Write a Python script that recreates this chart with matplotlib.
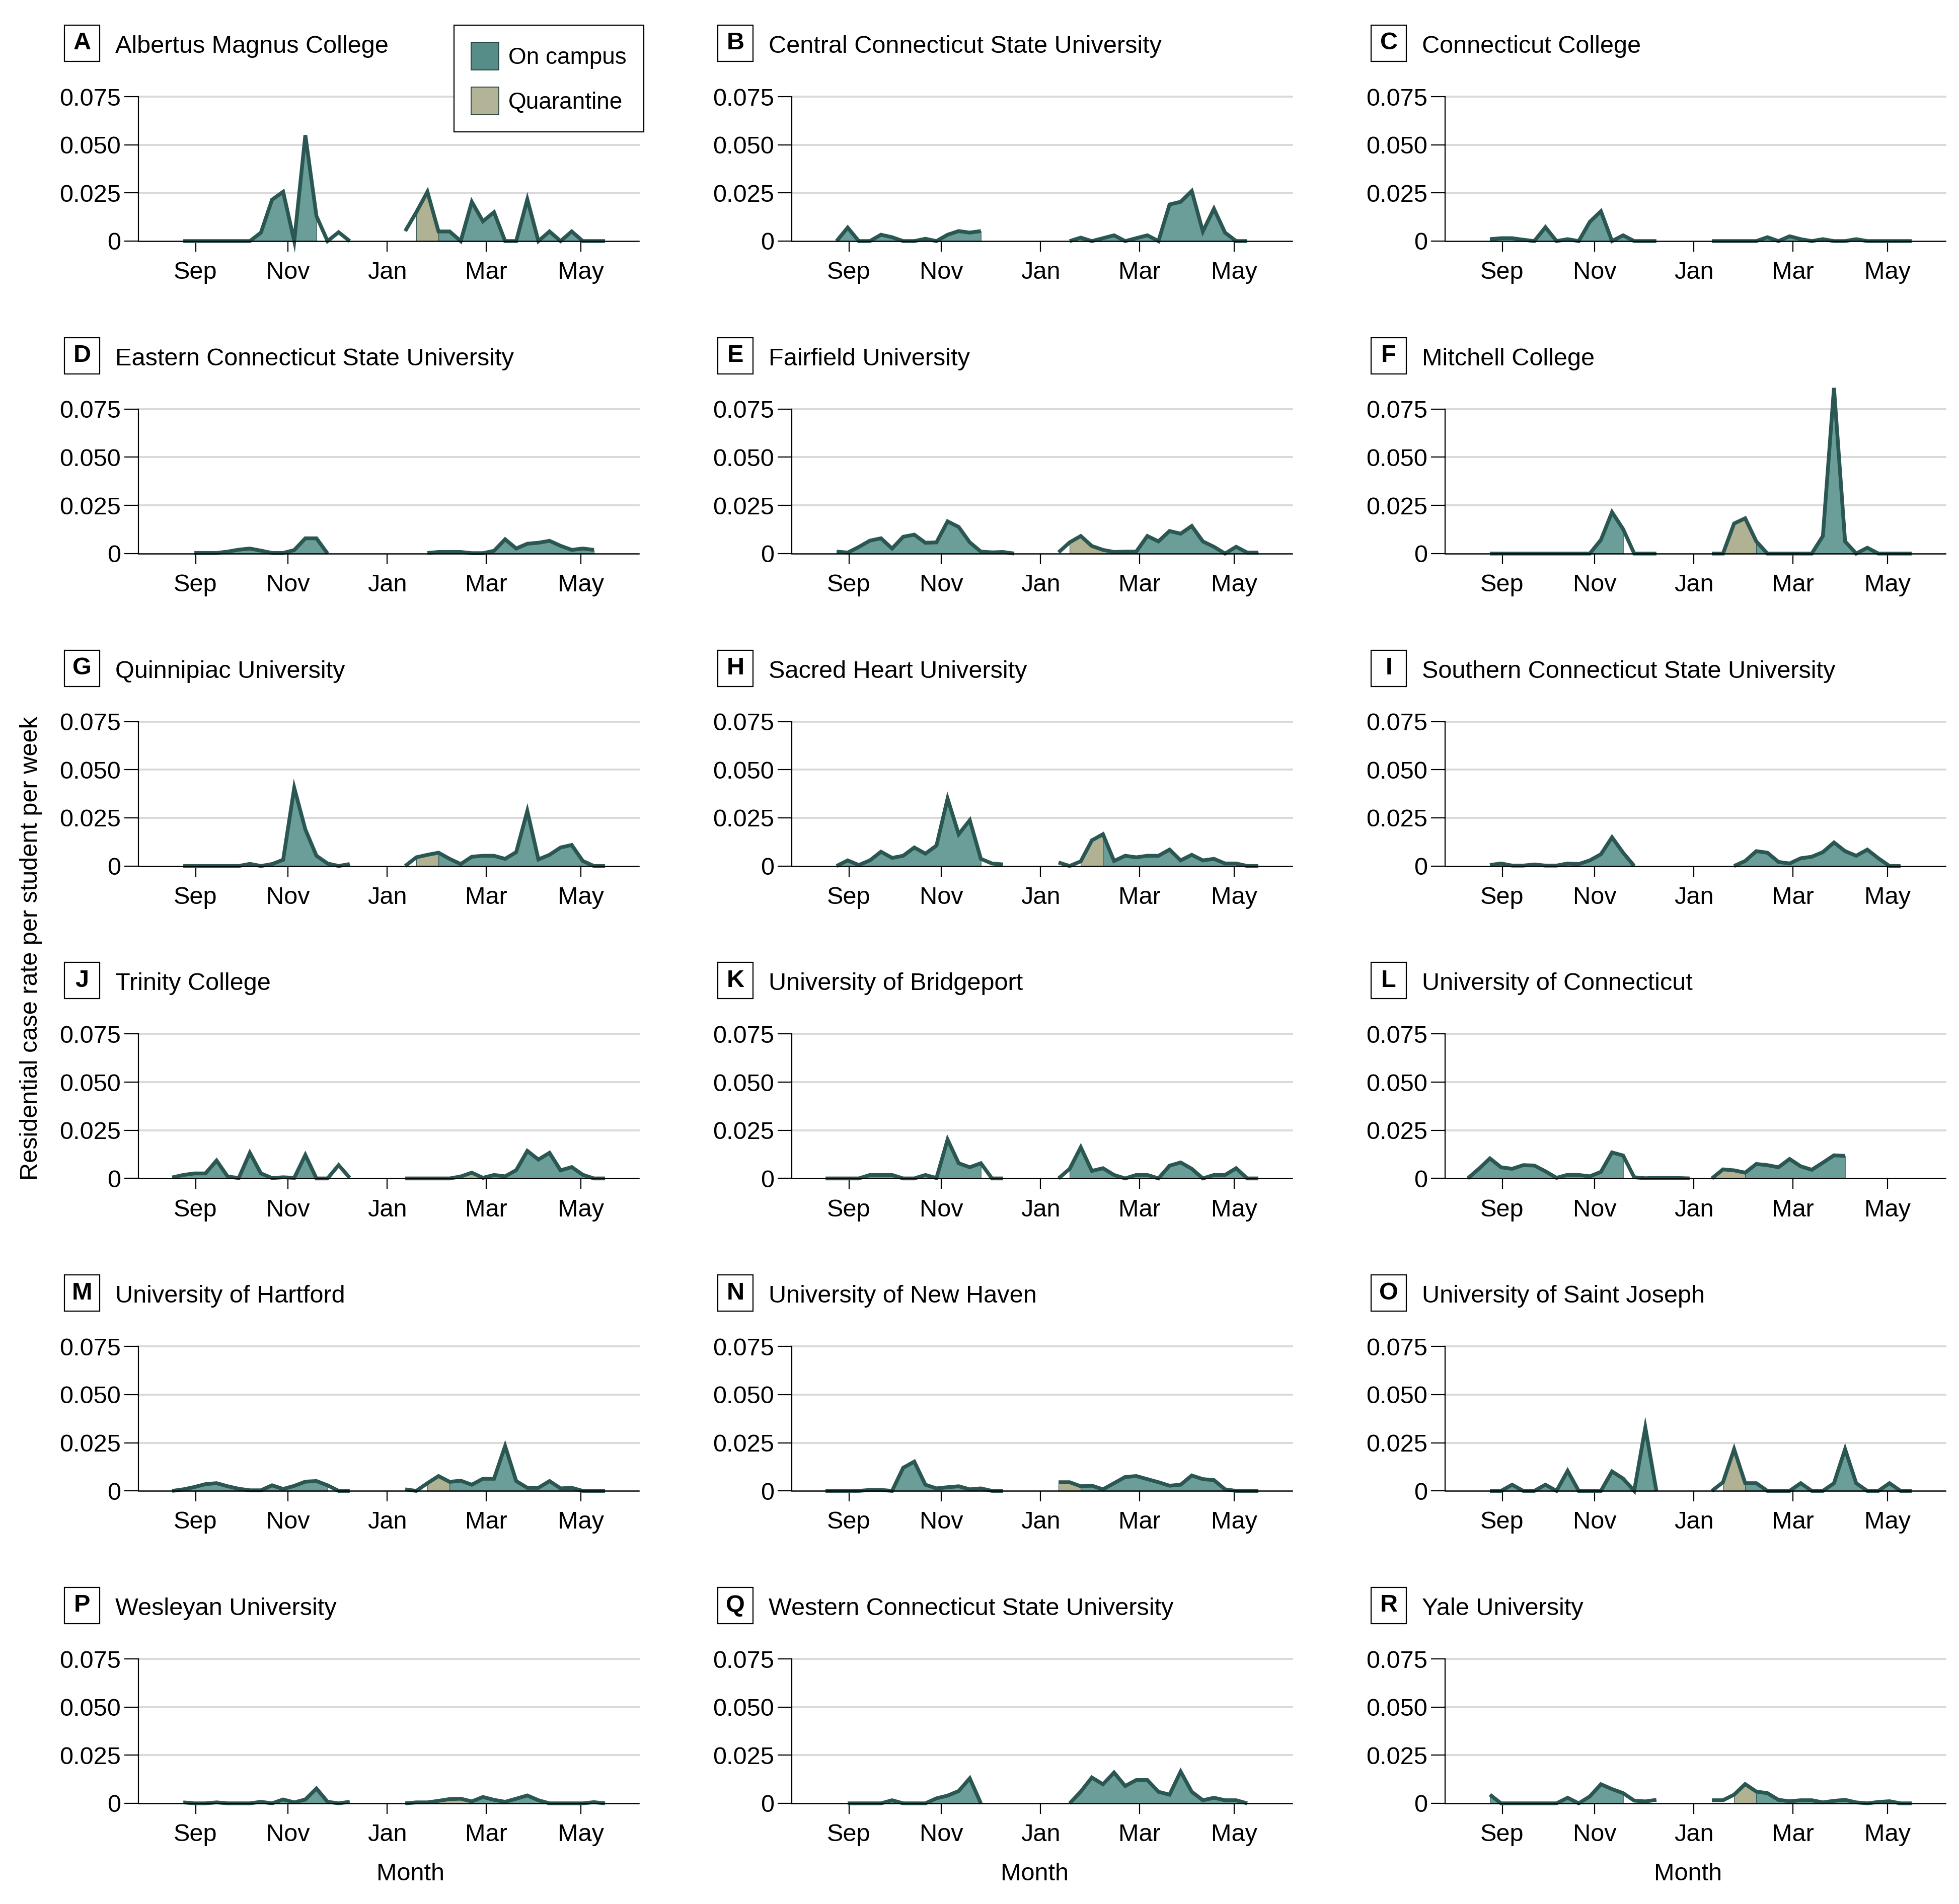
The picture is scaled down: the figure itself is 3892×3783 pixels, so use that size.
import matplotlib
matplotlib.use('Agg')
import matplotlib.pyplot as plt
from matplotlib.patches import Patch, Rectangle

# ================== fonts & sizes =================
font_size = 35
plt.rcParams['font.family'] = ['Liberation Sans', 'DejaVu Sans']
plt.rcParams['font.size'] = font_size

line_color = '#2b5753'
fill_colors = {'C': '#6b9d99', 'Q': '#b1b294'}
grid_color = '#d9d9d9'

# ================== data (weekly case rate per student) =================
letters = ['A', 'B', 'C', 'D', 'E', 'F', 'G', 'H', 'I',
           'J', 'K', 'L', 'M', 'N', 'O', 'P', 'Q', 'R']
names = ['Albertus Magnus College', 'Central Connecticut State University', 'Connecticut College',
         'Eastern Connecticut State University', 'Fairfield University', 'Mitchell College',
         'Quinnipiac University', 'Sacred Heart University', 'Southern Connecticut State University',
         'Trinity College', 'University of Bridgeport', 'University of Connecticut',
         'University of Hartford', 'University of New Haven', 'University of Saint Joseph',
         'Wesleyan University', 'Western Connecticut State University', 'Yale University']

# week index of the first point of each term
fall_start = [0, 0, 0, 1, 0, 0, 0, 0, 0, -1, -1, -2, -1, -1, 0, 0, 1, 0]
spring_start = [20, 21, 20, 22, 20, 20, 20, 20, 22, 20, 20, 20, 20, 20, 20, 20, 21, 20]

fall_rates = [
    [0, 0, 0, 0, 0, 0, 0, 0.0044, 0.0215, 0.0256, 0, 0.055, 0.013, 0, 0.0046, 0],
    [0, 0.007, 0, 0, 0.0033, 0.002, 0, 0, 0.0012, 0, 0.0033, 0.0052, 0.0044, 0.0052],
    [0.001, 0.0015, 0.0015, 0.0007, 0, 0.0072, 0, 0.001, 0, 0.010, 0.0155, 0, 0.003, 0, 0, 0],
    [0.0003, 0.0003, 0.0003, 0.001, 0.002, 0.0026, 0.0015, 0.0003, 0.0003, 0.0018, 0.0079, 0.0079, 0],
    [0.001, 0.0005, 0.0034, 0.0067, 0.0079, 0.0026, 0.0087, 0.0098, 0.0056, 0.0058, 0.0167, 0.0138,
     0.0058, 0.001, 0.0006, 0.0008, 0],
    [0, 0, 0, 0, 0, 0, 0, 0, 0, 0, 0.0071, 0.0215, 0.0127, 0, 0, 0],
    [0, 0, 0, 0, 0, 0, 0.0011, 0, 0.001, 0.0032, 0.0406, 0.019, 0.0053, 0.0013, 0, 0.001],
    [0, 0.0029, 0.0005, 0.0029, 0.0074, 0.0042, 0.0053, 0.0096, 0.0064, 0.0106, 0.035, 0.0165,
     0.0238, 0.0037, 0.0013, 0.0008],
    [0.0005, 0.0013, 0.0002, 0.0002, 0.0008, 0.0002, 0.0002, 0.0013, 0.001, 0.0029, 0.0061, 0.0149,
     0.0069, 0],
    [0.0005, 0.0018, 0.0026, 0.0026, 0.0093, 0.001, 0.0002, 0.0133, 0.0026, 0.0002, 0.0006, 0.0003,
     0.0122, 0, 0, 0.0069, 0.0003],
    [0, 0, 0, 0, 0.0018, 0.0018, 0.0018, 0, 0, 0.0018, 0.0002, 0.0202, 0.0079, 0.0058, 0.0079, 0, 0],
    [0, 0.005, 0.0104, 0.0058, 0.005, 0.0069, 0.0067, 0.0037, 0.0003, 0.0019, 0.0018, 0.0011, 0.0034,
     0.0135, 0.0119, 0.0006, 0.0001, 0.0003, 0.0003, 0.0002, 0],
    [0, 0.0008, 0.002, 0.0035, 0.004, 0.0024, 0.0011, 0.0003, 0.0003, 0.0029, 0.001, 0.0026, 0.0048,
     0.0051, 0.0029, 0, 0],
    [0, 0, 0, 0, 0.0005, 0.0005, 0, 0.012, 0.0152, 0.0032, 0.0013, 0.0019, 0.0024, 0.0008, 0.0013, 0, 0],
    [0, 0, 0.0032, 0, 0, 0.0032, 0, 0.0104, 0, 0, 0, 0.0101, 0.0064, 0, 0.0329, 0],
    [0.0005, 0, 0, 0.0005, 0, 0, 0, 0.0008, 0, 0.002, 0.0005, 0.002, 0.0077, 0.0008, 0, 0.0008],
    [0, 0, 0, 0, 0.0016, 0, 0, 0, 0.0026, 0.004, 0.0064, 0.013, 0],
    [0.0045, 0, 0, 0, 0, 0, 0, 0.0029, 0, 0.0036, 0.0099, 0.0074, 0.0053, 0.0014, 0.001, 0.0018],
]

spring_rates = [
    [0.0052, 0.015, 0.0256, 0.005, 0.005, 0, 0.0204, 0.0103, 0.015, 0, 0, 0.0217, 0, 0.005, 0, 0.005,
     0, 0, 0],
    [0, 0.0018, 0, 0.0015, 0.003, 0, 0.0015, 0.003, 0, 0.019, 0.0204, 0.026, 0.005, 0.0168, 0.0044,
     0, 0],
    [0, 0, 0, 0, 0, 0.002, 0, 0.0025, 0.001, 0, 0.001, 0, 0, 0.001, 0, 0, 0, 0, 0],
    [0.0003, 0.0008, 0.0008, 0.0008, 0.0002, 0.0002, 0.0014, 0.0074, 0.0026, 0.0051, 0.0056, 0.0066,
     0.004, 0.0019, 0.0026, 0.0019],
    [0.0006, 0.0058, 0.0091, 0.0039, 0.0019, 0.0008, 0.001, 0.001, 0.0091, 0.0063, 0.0117, 0.0103,
     0.0143, 0.0063, 0.0035, 0, 0.0035, 0.0005, 0.0005],
    [0, 0, 0.0156, 0.0183, 0.0063, 0, 0, 0, 0, 0, 0.0091, 0.086, 0.0063, 0, 0.003, 0, 0, 0, 0],
    [0, 0.0045, 0.0058, 0.0069, 0.0037, 0.001, 0.0048, 0.0053, 0.0053, 0.0037, 0.0072, 0.0286, 0.0034,
     0.0058, 0.0096, 0.0109, 0.0026, 0, 0],
    [0.0018, 0, 0.0024, 0.0133, 0.0165, 0.0026, 0.0053, 0.0045, 0.0053, 0.0053, 0.0085, 0.0029, 0.0058,
     0.0029, 0.0037, 0.0013, 0.0013, 0, 0],
    [0, 0.0026, 0.0077, 0.0069, 0.0021, 0.0013, 0.004, 0.0048, 0.0072, 0.0122, 0.0077, 0.0053, 0.0085,
     0.004, 0, 0],
    [0, 0, 0, 0, 0, 0.001, 0.003, 0.0003, 0.0018, 0.0011, 0.0043, 0.0143, 0.0098, 0.0133, 0.0042,
     0.0059, 0.0019, 0, 0],
    [0, 0.005, 0.0162, 0.0039, 0.0053, 0.0018, 0, 0.0018, 0.0018, 0, 0.0066, 0.0083, 0.005, 0, 0.0018,
     0.0018, 0.0053, 0, 0],
    [0, 0.0047, 0.0042, 0.003, 0.0075, 0.0069, 0.0058, 0.0101, 0.0063, 0.0045, 0.0082, 0.012, 0.0117],
    [0.0008, 0, 0.004, 0.0077, 0.0047, 0.0053, 0.0032, 0.0063, 0.0063, 0.0233, 0.0051, 0.0016, 0.0016,
     0.0051, 0.0013, 0.0016, 0, 0, 0],
    [0.0045, 0.0045, 0.0024, 0.0027, 0.0008, 0.004, 0.0072, 0.0077, 0.0061, 0.0045, 0.0027, 0.0032,
     0.008, 0.0061, 0.0056, 0.0008, 0, 0, 0],
    [0, 0.0045, 0.0217, 0.004, 0.004, 0, 0, 0, 0.004, 0, 0, 0.004, 0.0217, 0.004, 0, 0, 0.004, 0, 0],
    [0, 0.0005, 0.0005, 0.0013, 0.0022, 0.0024, 0.001, 0.0033, 0.0018, 0.0008, 0.0024, 0.0041, 0.0016,
     0, 0, 0, 0, 0.0006, 0],
    [0, 0.0061, 0.0134, 0.0099, 0.016, 0.009, 0.0121, 0.0121, 0.006, 0.0045, 0.0165, 0.006, 0.0016,
     0.0029, 0.0016, 0.0016, 0],
    [0.0016, 0.0016, 0.0045, 0.01, 0.0061, 0.0053, 0.0018, 0.0011, 0.0016, 0.0016, 0.0005, 0.0013,
     0.0018, 0.0005, 0, 0.0007, 0.0011, 0, 0],
]

# residence status for the week starting at each point: C on campus, Q quarantine, N none
fall_status = [
    'CCCCCCCCCCCCNNNN', 'CCCCCCCCCCCCCC', 'CCCCCCCCCCCCCCCC', 'CCCCCCCCCCCCC',
    'CCCCCCCCCCCCCCCCC', 'CCCCCCCCCCCCNNNN', 'CCCCCCCCCCCCCCCC', 'CCCCCCCCCCCCCNNN',
    'CCCCCCCCCCCCCC', 'CCCCCCCCCCCCCCNNN', 'CCCCCCCCCCCCCCNNN', 'CCCCCCCCCCCCCCNNNNNNN',
    'CCCCCCCCCCCCCCNNN', 'CCCCCCCCCCCCCCCCC', 'CCCCCCCCCCCCCCCC', 'CCCCCCCCCCCCCNNN',
    'CCCCCCCCCCCCC', 'CCCCCCCCCCCCNNNN',
]
spring_status = [
    'NQQCCCCCCCCCCCCCCCC', 'QCCCCCCCCCCCCCCCC', 'CCCCCCCCCCCCCCCCCCC', 'CCCCCCCCCCCCCCCC',
    'NQQQQQQCCCCCCCCCCCC', 'NQQQCCCCCCCCCCCCCCC', 'NQQCCCCCCCCCCCCCCCC', 'NNQQCCCCCCCCCCCCCCC',
    'CCCCCCCCCCCCCCCC', 'CCCCCQQCCCCCCCCCCCC', 'NCCCCCCCCCCCCCCCCCC', 'QQQCCCCCCCCCC',
    'NNQQCCCCCCCCCCCCCCC', 'QQCCCCCCCCCCCCCCCCC', 'NQQCCCCCCCCCCCCCCCC', 'NNQQQQCCCCCCCCCCCCC',
    'CCCCCCCCCCCCCCCCC', 'NNQQCCCCCCCCCCCCCCC',
]

month_ticks = [1.11, 9.45, 18.37, 27.3, 35.82]
month_labels = ['Sep', 'Nov', 'Jan', 'Mar', 'May']
y_ticks = [0, 0.025, 0.05, 0.075]
y_labels = ['0', '0.025', '0.050', '0.075']

# ================== layout (pixels) =================
W, H = 3892, 3783
col_left = [275, 1573, 2871]
ax_w = 994
row_top0, row_step, ax_h = 192, 620.8, 287


def draw_term(ax, start, rates, status):
    x = list(range(start, start + len(rates)))
    i = 0
    while i < len(rates) - 1:
        s = status[i]
        j = i
        while j < len(rates) - 1 and status[j] == s:
            j += 1
        if s != 'N':
            ax.fill_between(x[i:j + 1], 0, rates[i:j + 1], facecolor=fill_colors[s],
                            edgecolor=line_color, linewidth=0.8, zorder=2, clip_on=False)
        i = j
    ax.plot(x, rates, color=line_color, lw=5.4, solid_joinstyle='miter',
            solid_capstyle='butt', zorder=3, clip_on=False)


fig = plt.figure(figsize=(W / 100, H / 100), dpi=100)

for k in range(18):
    r, c = divmod(k, 3)
    left = col_left[c]
    top = row_top0 + row_step * r
    ax = fig.add_axes([left / W, 1 - (top + ax_h) / H, ax_w / W, ax_h / H])
    ax.set_facecolor('none')

    for yv in y_ticks[1:]:
        ax.axhline(yv, color=grid_color, lw=2.8, zorder=0, clip_on=False)

    draw_term(ax, fall_start[k], fall_rates[k], fall_status[k])
    draw_term(ax, spring_start[k], spring_rates[k], spring_status[k])

    ax.set_xlim(-4.04, 41.04)
    ax.set_ylim(0, 0.075)
    ax.spines['top'].set_visible(False)
    ax.spines['right'].set_visible(False)
    ax.spines['left'].set_linewidth(1.6)
    ax.spines['bottom'].set_linewidth(1.8)
    ax.spines['bottom'].set_zorder(4)
    ax.set_yticks(y_ticks)
    ax.set_yticklabels(y_labels)
    ax.set_xticks(month_ticks)
    ax.set_xticklabels(month_labels)
    ax.tick_params(axis='y', length=20, width=1.6, pad=5, labelsize=font_size)
    ax.tick_params(axis='x', length=15, width=1.6, pad=14, labelsize=font_size)

    # panel letter box and title
    fig.add_artist(Rectangle(((left - 147) / W, 1 - (top - 70) / H), 70 / W, 72 / H,
                             transform=fig.transFigure, facecolor='white',
                             edgecolor='black', linewidth=1.6))
    fig.text((left - 112) / W, 1 - (top - 106) / H, letters[k], ha='center', va='center',
             fontweight='bold', fontsize=font_size)
    fig.text((left - 46) / W, 1 - (top - 87) / H, names[k], ha='left', va='baseline',
             fontsize=font_size)

# legend
leg_size = 33
handles = [Patch(facecolor='#578d89', edgecolor='#1e3b38', linewidth=1.2, label='On campus'),
           Patch(facecolor='#b3b497', edgecolor='#1e3b38', linewidth=1.2, label='Quarantine')]
leg = fig.legend(handles=handles, loc='upper left', bbox_to_anchor=(902 / W, 1 - 50 / H),
                 frameon=True, fancybox=False, framealpha=1, edgecolor='black',
                 handlelength=1.2, handleheight=1.45, handletextpad=0.4,
                 borderpad=0.75, labelspacing=0.75, borderaxespad=0, fontsize=leg_size)
leg.get_frame().set_linewidth(1.6)

fig.text(62 / W, 1 - 1884 / H, 'Residential case rate per student per week', rotation=90,
         ha='center', va='center', fontsize=font_size)
for mx in [815, 2055, 3353]:
    fig.text(mx / W, 1 - 3736 / H, 'Month', ha='center', va='baseline', fontsize=font_size)

fig.savefig('out.png', dpi=100)
